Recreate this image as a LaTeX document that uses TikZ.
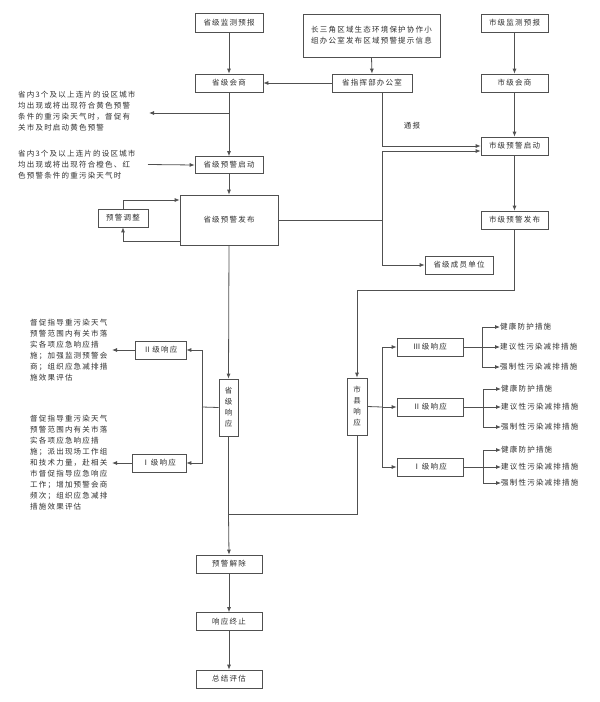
\documentclass[tikz,border=0pt]{standalone}
\usepackage{fontspec}
\newfontfamily\cjk[LetterSpace=16]{Noto Sans CJK SC}
\usetikzlibrary{arrows.meta}
\definecolor{linec}{HTML}{505050}
\definecolor{txtc}{HTML}{303030}
\begin{document}
\begin{tikzpicture}[x=1pt,y=-1pt,
  box/.style={draw=linec, line width=0.7pt, inner sep=0pt, minimum height=18pt, text=txtc, font=\cjk\fontsize{7.5}{11}\selectfont, align=center},
  lbl/.style={inner sep=0pt, text=txtc, font=\cjk\fontsize{7.5}{11}\selectfont, align=left},
  ln/.style={draw=linec, line width=0.8pt},
  arr/.style={ln, -{Latex[length=5pt,width=4pt]}}]
\useasboundingbox (0,0) rectangle (600,702);
\fill[white] (0,0) rectangle (600,702);
% provincial column
\node[box, minimum width=68pt, minimum height=19pt] (pm) at (229,22.5) {省级监测预报};
\node[box, minimum width=68pt] (ph) at (229,83) {省级会商};
\node[box, minimum width=68pt, minimum height=17pt] (pq) at (229,165) {省级预警启动};
\node[box, minimum width=98pt, minimum height=50pt] (pf) at (229,220) {省级预警发布};
\node[box, minimum width=50pt] (adj) at (123,218) {预警调整};
% top middle
\node[box, minimum width=137pt, minimum height=43pt] (yz) at (371.5,35.5) {长三角区域生态环境保护协作小\\组办公室发布区域预警提示信息};
\node[box, minimum width=80pt] (zh) at (372,83) {省指挥部办公室};
% city column
\node[box, minimum width=67pt] (cm) at (514.5,23) {市级监测预报};
\node[box, minimum width=67pt] (ch) at (514.5,83) {市级会商};
\node[box, minimum width=67pt] (cq) at (514.5,146) {市级预警启动};
\node[box, minimum width=67pt] (cf) at (514.5,220) {市级预警发布};
\node[box, minimum width=68pt] (cy) at (459,265) {省级成员单位};
\node[lbl] (tb) at (412,126) {通报};
% left notes
\node[lbl, anchor=west] (t1) at (18,111.5) {省内3个及以上连片的设区城市\\均出现或将出现符合黄色预警\\条件的重污染天气时，督促有\\关市及时启动黄色预警};
\node[lbl, anchor=west] (t2) at (18,164.5) {省内3个及以上连片的设区城市\\均出现或将出现符合橙色、红\\色预警条件的重污染天气时};
\node[lbl, anchor=west] (t3) at (30,350.5) {督促指导重污染天气\\预警范围内有关市落\\实各项应急响应措\\施；加强监测预警会\\商；组织应急减排措\\施效果评估};
\node[lbl, anchor=west] (t4) at (30,463) {督促指导重污染天气\\预警范围内有关市落\\实各项应急响应措\\施；派出现场工作组\\和技术力量，赴相关\\市督促指导应急响应\\工作；增加预警会商\\频次；组织应急减排\\措施效果评估};
% responses
\node[box, minimum width=19pt, minimum height=57pt] (sr) at (228.5,407.5) {省\\级\\响\\应};
\node[box, minimum width=20pt, minimum height=57pt] (xr) at (357,406.5) {市\\县\\响\\应};
\node[box, minimum width=51pt] (p2) at (160.5,350) {Ⅱ级响应};
\node[box, minimum width=54pt] (p1) at (159,463) {Ⅰ级响应};
\node[box, minimum width=66pt] (c3) at (430,347) {Ⅲ级响应};
\node[box, minimum width=66pt] (c2) at (430,407) {Ⅱ级响应};
\node[box, minimum width=66pt] (c1) at (430,467) {Ⅰ级响应};
% measure items
\node[lbl, anchor=west] (a31) at (500,327) {健康防护措施};
\node[lbl, anchor=west] (a32) at (500,347) {建议性污染减排措施};
\node[lbl, anchor=west] (a33) at (500,367) {强制性污染减排措施};
\node[lbl, anchor=west] (a21) at (501,389) {健康防护措施};
\node[lbl, anchor=west] (a22) at (501,407) {建议性污染减排措施};
\node[lbl, anchor=west] (a23) at (501,427) {强制性污染减排措施};
\node[lbl, anchor=west] (a11) at (501,450) {健康防护措施};
\node[lbl, anchor=west] (a12) at (501,467) {建议性污染减排措施};
\node[lbl, anchor=west] (a13) at (501,483) {强制性污染减排措施};
% bottom
\node[box, minimum width=66pt] (jc) at (229,564) {预警解除};
\node[box, minimum width=66pt] (zz) at (229,621.5) {响应终止};
\node[box, minimum width=66pt] (zj) at (229,679) {总结评估};
% coordinates
\coordinate (b1) at (229,113);
\coordinate (e1) at (149,113);
\coordinate (s2) at (148,164.5);
\coordinate (j1) at (382,220);
\coordinate (k1) at (514.5,290);
\coordinate (l1) at (202,407);
\coordinate (e3) at (112,350);
\coordinate (e4) at (112,463);
\coordinate (m1) at (228.5,514);
\coordinate (r1) at (382,407);
\coordinate (g3) at (482,347);
\coordinate (g2) at (483,407);
\coordinate (g1) at (483,467);
% connectors
\draw[arr] (pm.south) -- (ph.north);
\draw[arr] (zh.west) -- (ph.east);
\draw[arr] (ph.south) -- (pq.north);
\draw[arr] (b1) -- (e1);
\draw[arr] (s2) -- (pq.west);
\draw[arr] (pq.south) -- (pf.north);
\draw[arr] ([yshift=-21pt]pf.west) -| (adj.south);
\draw[arr] (adj.north) |- ([yshift=20pt]pf.west);
\draw[arr] (yz.south) -- (zh.north);
\draw[arr] (cm.south) -- (ch.north);
\draw[arr] (ch.south) -- (cq.north);
\draw[arr] (cq.south) -- (cf.north);
\draw[arr] ([xshift=10pt]zh.south) |- (cq.west);
\draw[ln] (pf.east) -- (j1);
\draw[arr] (j1) |- (cy.west);
\draw[arr] (j1) |- ([yshift=-5pt]cq.west);
\draw[arr] (cf.south) -- (k1) -| (xr.north);
\draw[arr] (pf.south) -- (sr.north);
\draw[ln] (sr.west) -- (l1);
\draw[arr] (l1) |- (p2.east);
\draw[arr] (l1) |- (p1.east);
\draw[arr] (p2.west) -- (e3);
\draw[arr] (p1.west) -- (e4);
\draw[ln] (sr.south) -- (m1);
\draw[ln] (xr.south) |- (m1);
\draw[arr] (m1) -- (jc.north);
\draw[arr] (jc.south) -- (zz.north);
\draw[arr] (zz.south) -- (zj.north);
\draw[ln] (xr.east) -- (r1);
\draw[arr] (r1) |- (c3.west);
\draw[arr] (r1) -- (c2.west);
\draw[arr] (r1) |- (c1.west);
\draw[ln] (c3.east) -- (g3);
\draw[arr] (g3) |- (a31.west);
\draw[arr] (g3) -- (a32.west);
\draw[arr] (g3) |- (a33.west);
\draw[ln] (c2.east) -- (g2);
\draw[arr] (g2) |- (a21.west);
\draw[arr] (g2) -- (a22.west);
\draw[arr] (g2) |- (a23.west);
\draw[ln] (c1.east) -- (g1);
\draw[arr] (g1) |- (a11.west);
\draw[arr] (g1) -- (a12.west);
\draw[arr] (g1) |- (a13.west);
\end{tikzpicture}
\end{document}
